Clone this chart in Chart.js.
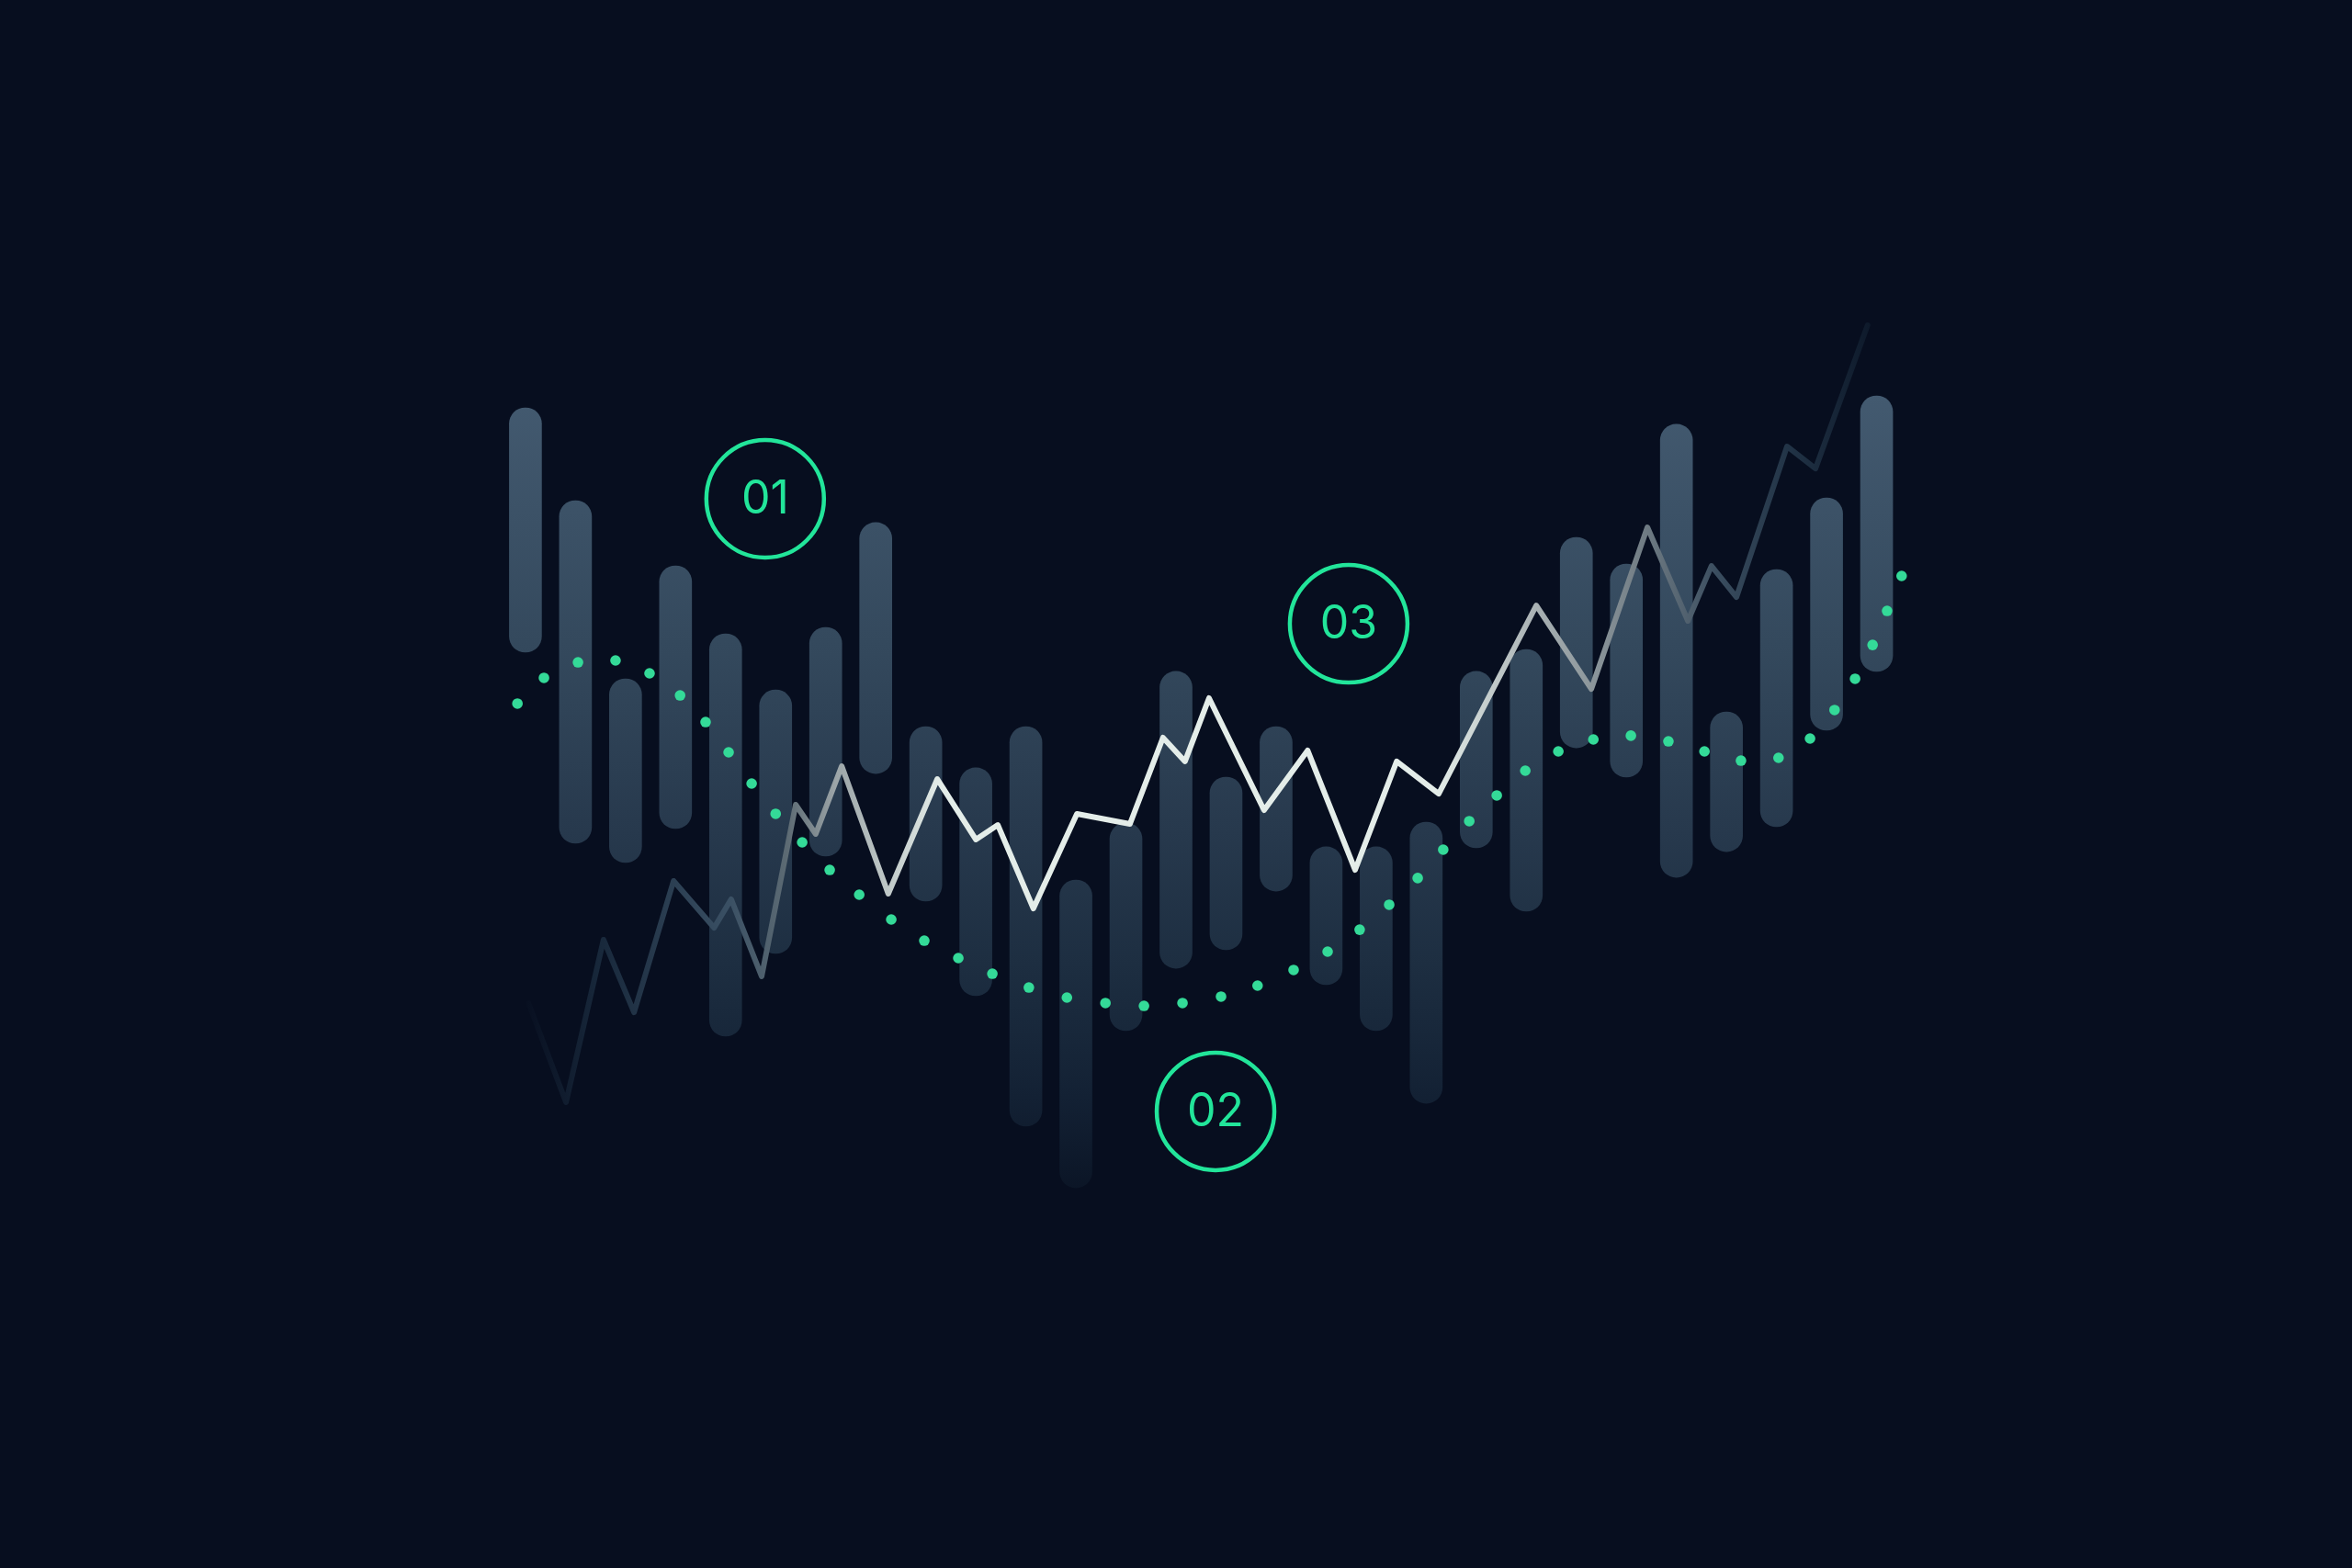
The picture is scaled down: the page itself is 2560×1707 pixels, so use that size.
<!DOCTYPE html>
<html lang="en">
<head>
    <meta charset="UTF-8">
    <title>Market Trend</title>
    <script src="https://cdn.jsdelivr.net/npm/chart.js"></script>
    <style>
        html, body {
            margin: 0;
            padding: 0;
            background: #070e1f;
            overflow: hidden;
        }
        #wrap {
            width: 2560px;
            height: 1707px;
        }
    </style>
</head>
<body>
    <div id="wrap"><canvas id="trendChart" width="2560" height="1707"></canvas></div>

    <script>
        // floating bars: one per session
        const barX = [1, 2, 3, 4, 5, 6, 7, 8, 9, 10, 11, 12, 13, 14, 15, 16, 17, 18, 19, 20, 21, 22, 23, 24, 25, 26, 27, 28];
        const barHigh = [73.99, 68.07, 56.71, 63.91, 59.58, 56.00, 59.99, 66.67, 53.66, 51.03, 53.66, 43.88, 47.51, 57.18,
                         50.44, 53.66, 45.99, 45.99, 47.57, 57.18, 58.58, 65.73, 64.03, 72.94, 54.60, 63.68, 68.25, 74.75];
        const barLow = [58.41, 46.22, 44.99, 47.16, 33.92, 39.19, 45.40, 50.67, 42.53, 36.50, 28.18, 24.25, 34.27, 38.25,
                        39.43, 43.17, 37.20, 34.27, 29.64, 45.93, 41.89, 52.31, 50.44, 44.05, 45.69, 47.28, 53.43, 57.18];

        // price line
        const lineX = [1.06, 1.81, 2.56, 3.17, 3.96, 4.77, 5.11, 5.72, 6.40, 6.80, 7.32, 8.25, 9.23, 10.00, 10.44, 11.15,
                       12.02, 13.08, 13.74, 14.18, 14.66, 15.76, 16.63, 17.58, 18.41, 19.25, 21.20, 22.30, 23.42, 24.23,
                       24.70, 25.20, 26.21, 26.78, 27.82];
        const lineY = [36.03, 29.70, 40.07, 35.44, 43.82, 40.83, 42.65, 37.73, 48.68, 46.81, 51.14, 43.00, 50.32, 46.46,
                       47.39, 42.06, 48.10, 47.45, 52.96, 51.44, 55.48, 48.33, 52.14, 44.52, 51.44, 49.38, 61.39, 56.06,
                       66.37, 60.40, 63.91, 61.92, 71.53, 70.12, 79.26];

        // dotted moving average
        const dotX = [0.84, 1.37, 2.05, 2.80, 3.48, 4.09, 4.60, 5.06, 5.52, 6.00, 6.53, 7.08, 7.67, 8.31, 8.97, 9.65,
                      10.33, 11.06, 11.82, 12.59, 13.36, 14.13, 14.90, 15.63, 16.35, 17.03, 17.67, 18.26, 18.83, 19.34,
                      19.86, 20.41, 20.98, 21.64, 22.34, 23.09, 23.84, 24.56, 25.29, 26.04, 26.67, 27.16, 27.57, 27.92,
                      28.21, 28.50];
        const dotY = [55.13, 56.77, 57.76, 57.88, 57.06, 55.65, 53.95, 52.02, 50.03, 48.10, 46.28, 44.52, 42.94, 41.36,
                      40.01, 38.90, 37.90, 37.02, 36.38, 36.03, 35.85, 36.03, 36.44, 37.14, 38.14, 39.31, 40.71, 42.30,
                      44.00, 45.81, 47.63, 49.27, 50.85, 52.08, 52.84, 53.08, 52.72, 52.08, 51.49, 51.67, 52.90, 54.72,
                      56.71, 58.87, 61.04, 63.27];

        // numbered markers
        const markerX = [5.79, 14.79, 17.45];
        const markerY = [68.19, 29.12, 60.22];
        const markerLabels = ["01", "02", "03"];

        const green = "#22e59a";
        const dotGreen = "#34da98";

        function barGradient(context) {
            const chart = context.chart;
            const area = chart.chartArea;
            if (!area) return "#2c4054";
            const g = chart.ctx.createLinearGradient(0, area.top, 0, area.bottom);
            g.addColorStop(0.25, "#435a70");
            g.addColorStop(0.41, "#34495d");
            g.addColorStop(0.53, "#27394d");
            g.addColorStop(0.615, "#1d2e41");
            g.addColorStop(0.70, "#132134");
            g.addColorStop(0.76, "#0b1526");
            return g;
        }

        function lineGradient(context) {
            const chart = context.chart;
            const area = chart.chartArea;
            if (!area) return "#e4ede9";
            const g = chart.ctx.createLinearGradient(area.left, 0, area.right, 0);
            g.addColorStop(0.222, "#070e1f");
            g.addColorStop(0.255, "#18283b");
            g.addColorStop(0.31, "#3a5064");
            g.addColorStop(0.335, "#5d6b74");
            g.addColorStop(0.355, "#9ba4a7");
            g.addColorStop(0.40, "#e4ede9");
            g.addColorStop(0.61, "#e4ede9");
            g.addColorStop(0.65, "#adb5b7");
            g.addColorStop(0.70, "#6f7b83");
            g.addColorStop(0.73, "#3a4d5f");
            g.addColorStop(0.76, "#223447");
            g.addColorStop(0.80, "#0b1627");
            return g;
        }

        const markerText = {
            id: "markerText",
            afterDatasetsDraw(chart) {
                const { ctx, scales } = chart;
                ctx.save();
                ctx.fillStyle = green;
                ctx.font = "400 50px Inter, 'Open Sans', sans-serif";
                ctx.textAlign = "center";
                ctx.textBaseline = "middle";
                markerLabels.forEach((label, i) => {
                    const x = scales.x.getPixelForValue(markerX[i]);
                    const y = scales.y.getPixelForValue(markerY[i]);
                    ctx.fillText(label, x, y + 1);
                });
                ctx.restore();
            }
        };

        new Chart(document.getElementById("trendChart"), {
            type: "bar",
            data: {
                datasets: [
                    {
                        type: "bar",
                        data: barX.map((x, i) => ({ x, y: [barLow[i], barHigh[i]] })),
                        backgroundColor: barGradient,
                        borderSkipped: false,
                        borderRadius: 18,
                        barThickness: 35,
                        order: 3
                    },
                    {
                        type: "line",
                        data: lineX.map((x, i) => ({ x, y: lineY[i] })),
                        borderColor: lineGradient,
                        borderWidth: 6,
                        borderJoinStyle: "round",
                        borderCapStyle: "round",
                        pointRadius: 0,
                        tension: 0,
                        fill: false,
                        order: 2
                    },
                    {
                        type: "scatter",
                        data: dotX.map((x, i) => ({ x, y: dotY[i] })),
                        backgroundColor: dotGreen,
                        borderWidth: 0,
                        pointRadius: 5.8,
                        order: 1
                    },
                    {
                        type: "scatter",
                        data: markerX.map((x, i) => ({ x, y: markerY[i] })),
                        backgroundColor: "rgba(0,0,0,0)",
                        borderColor: green,
                        borderWidth: 4.5,
                        pointRadius: 64,
                        order: 0
                    }
                ]
            },
            options: {
                responsive: false,
                devicePixelRatio: 1,
                animation: false,
                layout: { padding: 0, autoPadding: false },
                plugins: {
                    legend: { display: false },
                    tooltip: { enabled: false }
                },
                scales: {
                    x: { type: "linear", min: -9.5, max: 37.5, offset: false, display: false },
                    y: { type: "linear", min: 0, max: 100, display: false }
                }
            },
            plugins: [markerText]
        });
    </script>
</body>
</html>
